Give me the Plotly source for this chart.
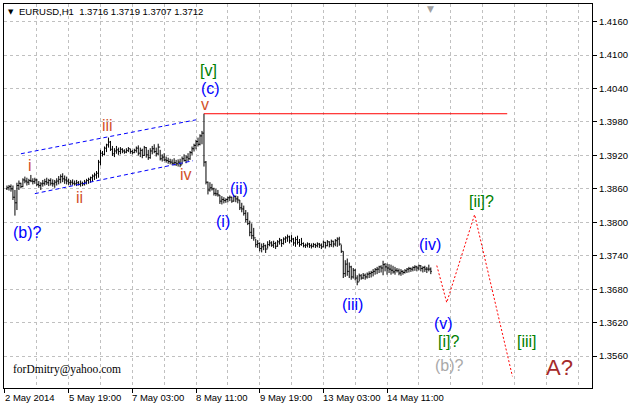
import plotly.graph_objects as go

# ---------------- data (prices in 1/10000) ----------------
first_open = 13860
highs = [
    13866, 13867, 13868, 13866, 13858, 13871, 13875, 13871, 13879, 13882,
    13880, 13878, 13885, 13879, 13880, 13878, 13874, 13872, 13876, 13878,
    13880, 13878, 13879, 13877, 13876, 13879, 13883, 13886, 13888, 13884,
    13882, 13878, 13876, 13877, 13875, 13876, 13874, 13875, 13873, 13876,
    13878, 13880, 13882, 13886, 13889, 13892, 13912, 13930, 13928, 13936,
    13941, 13952, 13946, 13937, 13933, 13937, 13934, 13935, 13933, 13931,
    13933, 13935, 13932, 13930, 13932, 13936, 13938, 13934, 13932, 13937,
    13935, 13930, 13933, 13937, 13940, 13934, 13941, 13930, 13922, 13924,
    13918, 13916, 13914, 13913, 13915, 13912, 13913, 13914, 13918, 13922,
    13920, 13924, 13928, 13936, 13941, 13948, 13952, 13958, 13964, 13995,
    13910, 13873, 13872, 13869, 13862, 13860, 13858, 13849, 13847, 13845,
    13843, 13846, 13848, 13846, 13849, 13848, 13847, 13840, 13835, 13830,
    13822, 13818, 13803, 13798, 13790, 13770, 13768, 13764, 13762, 13763,
    13760, 13766, 13768, 13766, 13767, 13765, 13768, 13772, 13770, 13773,
    13775, 13778, 13776, 13777, 13772, 13774, 13776, 13770, 13772, 13764,
    13762, 13764, 13763, 13762, 13763, 13762, 13764, 13763, 13762, 13767,
    13765, 13768, 13766, 13769, 13767, 13770, 13773, 13774, 13760, 13748,
    13732, 13735, 13728, 13722, 13718, 13716, 13705, 13708, 13707, 13709,
    13708, 13710, 13712, 13713, 13716, 13718, 13720, 13722, 13723, 13731,
    13727, 13726, 13725, 13724, 13722, 13720, 13718, 13717, 13716, 13714,
    13716, 13718, 13720, 13719, 13721, 13723, 13722, 13724, 13723, 13721,
    13722, 13720, 13724, 13719,
]
lows = [
    13858, 13857, 13855, 13840, 13812, 13822, 13858, 13861, 13863, 13870,
    13866, 13867, 13872, 13868, 13869, 13865, 13862, 13858, 13864, 13866,
    13867, 13865, 13866, 13864, 13862, 13866, 13868, 13870, 13872, 13869,
    13868, 13867, 13866, 13867, 13866, 13865, 13866, 13864, 13865, 13866,
    13868, 13869, 13871, 13873, 13876, 13878, 13880, 13902, 13918, 13920,
    13926, 13934, 13928, 13919, 13917, 13923, 13921, 13922, 13924, 13923,
    13924, 13926, 13923, 13922, 13924, 13925, 13920, 13917, 13915, 13919,
    13916, 13912, 13914, 13922, 13924, 13918, 13920, 13911, 13909, 13910,
    13907, 13905, 13904, 13903, 13902, 13901, 13900, 13899, 13904, 13909,
    13906, 13910, 13912, 13921, 13927, 13931, 13936, 13938, 13940, 13900,
    13868, 13850, 13855, 13857, 13848, 13847, 13846, 13833, 13832, 13834,
    13835, 13836, 13838, 13835, 13837, 13836, 13834, 13822, 13818, 13812,
    13800, 13795, 13775, 13770, 13767, 13755, 13754, 13748, 13746, 13750,
    13745, 13753, 13757, 13756, 13754, 13752, 13756, 13760, 13756, 13760,
    13763, 13765, 13762, 13764, 13758, 13756, 13760, 13756, 13758, 13755,
    13754, 13755, 13754, 13753, 13755, 13754, 13755, 13754, 13752, 13755,
    13753, 13757, 13755, 13756, 13755, 13757, 13756, 13758, 13745, 13700,
    13702, 13704, 13700, 13697, 13699, 13696, 13687, 13694, 13697, 13698,
    13697, 13699, 13700, 13701, 13703, 13706, 13707, 13709, 13710, 13705,
    13712, 13706, 13709, 13706, 13708, 13706, 13710, 13705, 13704, 13706,
    13708, 13709, 13710, 13711, 13712, 13713, 13712, 13714, 13712, 13710,
    13711, 13709, 13712, 13707,
]
closes = [
    13862, 13864, 13860, 13845, 13835, 13866, 13870, 13864, 13876, 13874,
    13872, 13875, 13874, 13873, 13876, 13868, 13866, 13869, 13870, 13873,
    13871, 13875, 13870, 13869, 13872, 13874, 13877, 13882, 13878, 13876,
    13874, 13871, 13872, 13870, 13869, 13871, 13868, 13870, 13869, 13872,
    13875, 13877, 13880, 13883, 13885, 13888, 13908, 13924, 13922, 13933,
    13939, 13944, 13931, 13923, 13928, 13930, 13927, 13931, 13928, 13926,
    13929, 13932, 13927, 13925, 13929, 13933, 13924, 13929, 13920, 13934,
    13921, 13916, 13928, 13932, 13927, 13923, 13935, 13914, 13917, 13912,
    13911, 13909, 13908, 13906, 13907, 13905, 13908, 13903, 13914, 13911,
    13917, 13914, 13925, 13932, 13938, 13945, 13940, 13955, 13960, 13908,
    13872, 13858, 13862, 13860, 13852, 13851, 13849, 13838, 13841, 13839,
    13841, 13844, 13845, 13838, 13846, 13842, 13840, 13826, 13824, 13816,
    13805, 13798, 13782, 13776, 13772, 13760, 13762, 13753, 13756, 13758,
    13752, 13760, 13763, 13759, 13762, 13757, 13765, 13768, 13762, 13770,
    13772, 13774, 13767, 13770, 13763, 13769, 13764, 13760, 13762, 13758,
    13759, 13761, 13758, 13757, 13760, 13758, 13761, 13759, 13756, 13764,
    13758, 13765, 13760, 13766, 13761, 13767, 13770, 13761, 13748, 13708,
    13725, 13712, 13720, 13702, 13714, 13700, 13693, 13704, 13700, 13705,
    13702, 13707, 13708, 13710, 13712, 13715, 13716, 13720, 13718, 13724,
    13720, 13718, 13716, 13714, 13711, 13714, 13713, 13709, 13712, 13710,
    13713, 13716, 13717, 13716, 13719, 13720, 13718, 13722, 13717, 13719,
    13716, 13716, 13716, 13712,
]

# time axis labels (bar index of each label)
time_tick_bars = [-1, 31, 63, 95, 127, 159, 191]
time_tick_labels = ["2 May 2014", "5 May 19:00", "7 May 03:00", "8 May 11:00",
                    "9 May 19:00", "13 May 03:00", "14 May 11:00"]
price_ticks = [1.3560, 1.3620, 1.3680, 1.3740, 1.3800, 1.3860, 1.3920,
               1.3980, 1.4040, 1.4100, 1.4160]

# channel lines (bar index, price)
upper_channel_x = [7, 95]
upper_channel_y = [1.39230, 1.39839]
lower_channel_x = [14, 93.5]
lower_channel_y = [1.38514, 1.39105]

# horizontal level from the top
level_x = [99, 251.4]
level_y = [1.39948, 1.39948]

# forecast path
forecast_x = [216, 221, 235, 254]
forecast_y = [1.37224, 1.36561, 1.38138, 1.35236]

# wave labels: text, bar index, price, color, size
wave_text = ["(b)?", "i", "ii", "iii", "iv", "v", "(c)", "[v]", "(i)", "(ii)",
             "(iii)", "(iv)", "(v)", "[i]?", "(b)?", "[ii]?", "[iii]", "A?"]
wave_x = [10.2, 11.7, 36.2, 50.7, 90.2, 99.7, 102.2, 101.2, 108.7, 116.7,
          173.7, 212.7, 219.2, 221.7, 222.2, 238.7, 261.2, 277.7]
wave_y = [1.37815, 1.39015, 1.38442, 1.39732, 1.38854, 1.40108, 1.40395, 1.40717,
          1.38012, 1.38603, 1.36526, 1.37600, 1.36185, 1.35863, 1.35433, 1.38371,
          1.35863, 1.35397]
BLUE, ORANGE, GREEN, GRAY, BROWN = "#0000FF", "#D2522A", "#008000", "#A9A9A9", "#A52A2A"
wave_color = [BLUE, ORANGE, ORANGE, ORANGE, ORANGE, ORANGE, BLUE, GREEN, BLUE, BLUE,
              BLUE, BLUE, BLUE, GREEN, GRAY, GREEN, GREEN, BROWN]
wave_size = [16] * 17 + [22]

# ---------------- figure ----------------
scale = 10000.0
bars = list(range(len(closes)))
opens = [first_open] + closes[:-1]

fig = go.Figure()
fig.add_trace(go.Ohlc(
    x=bars,
    open=[v / scale for v in opens],
    high=[v / scale for v in highs],
    low=[v / scale for v in lows],
    close=[v / scale for v in closes],
    increasing=dict(line=dict(color="black", width=1)),
    decreasing=dict(line=dict(color="black", width=1)),
    tickwidth=0.5, showlegend=False, hoverinfo="skip",
))

for xs, ys in [(upper_channel_x, upper_channel_y), (lower_channel_x, lower_channel_y)]:
    fig.add_trace(go.Scatter(x=xs, y=ys, mode="lines", showlegend=False, hoverinfo="skip",
                             line=dict(color="#0000FF", width=1, dash="4px,3px")))

fig.add_trace(go.Scatter(x=level_x, y=level_y, mode="lines", showlegend=False,
                         hoverinfo="skip", line=dict(color="#FF0000", width=1)))
fig.add_trace(go.Scatter(x=forecast_x, y=forecast_y, mode="lines", showlegend=False,
                         hoverinfo="skip", line=dict(color="#FF0000", width=1, dash="2px,2px")))

FONT = "Liberation Sans, Arial, sans-serif"
annotations = []
for t, x, y, c, s in zip(wave_text, wave_x, wave_y, wave_color, wave_size):
    annotations.append(dict(text=t, x=x, y=y, xref="x", yref="y", showarrow=False,
                            xanchor="center", yanchor="middle", borderpad=0,
                            font=dict(family=FONT, size=s, color=c)))

L, R, T, B = 3, 594, 3, 388
def px_x(px):
    return (px - L) / (R - L)
def px_y(py):
    return (B - py) / (B - T)

for xb, lab in zip(time_tick_bars, time_tick_labels):
    annotations.append(dict(text=lab, x=xb, y=px_y(397.5), xref="x", yref="paper",
                            showarrow=False, xanchor="left", yanchor="middle", xshift=-2,
                            font=dict(family=FONT, size=9.5, color="black")))

annotations.append(dict(text="▼", x=px_x(10), y=px_y(11), xref="paper", yref="paper",
                        showarrow=False, xanchor="center", yanchor="middle",
                        font=dict(family="DejaVu Sans", size=7, color="black")))
annotations.append(dict(text="EURUSD,H1  1.3716 1.3719 1.3707 1.3712", x=px_x(16), y=px_y(11),
                        xref="paper", yref="paper", showarrow=False, xanchor="left",
                        yanchor="middle", font=dict(family=FONT, size=9.5, color="black")))
annotations.append(dict(text="▼", x=213, y=1, xref="x", yref="paper", showarrow=False,
                        xanchor="center", yanchor="top", yshift=2,
                        font=dict(family="DejaVu Sans", size=9, color="#A0A0A0")))
annotations.append(dict(text="forDmitry@yahoo.com", x=px_x(10), y=px_y(369.5),
                        xref="paper", yref="paper", showarrow=False, xanchor="left",
                        yanchor="middle",
                        font=dict(family="Liberation Serif, Times New Roman, serif",
                                  size=11.5, color="black")))

GRID = "#C0C0C0"
fig.update_layout(
    width=631, height=406,
    margin=dict(l=L, r=631 - R, t=T, b=406 - B, pad=0),
    paper_bgcolor="white", plot_bgcolor="white",
    showlegend=False,
    annotations=annotations,
    xaxis=dict(
        range=[-1.5, 294.0], rangeslider=dict(visible=False),
        tickmode="array", tickvals=time_tick_bars, ticktext=[""] * len(time_tick_bars),
        ticks="outside", ticklen=4, tickcolor="black",
        showgrid=True, gridcolor=GRID, griddash="3px,3px", gridwidth=1,
        minor=dict(tickmode="linear", tick0=-1, dtick=16, showgrid=True,
                   gridcolor=GRID, griddash="3px,3px", ticks=""),
        showline=True, linecolor="black", linewidth=1, mirror=True, zeroline=False,
        fixedrange=True,
    ),
    yaxis=dict(
        range=[1.35027, 1.41917], side="right",
        tickmode="array", tickvals=price_ticks,
        ticktext=["%.4f" % v for v in price_ticks],
        ticks="outside", ticklen=4, tickcolor="black",
        tickfont=dict(family=FONT, size=9.5, color="black"),
        showgrid=True, gridcolor=GRID, griddash="3px,3px", gridwidth=1,
        showline=True, linecolor="black", linewidth=1, mirror=True, zeroline=False,
        fixedrange=True,
    ),
)

fig.write_html("out.html", config={"displayModeBar": False},
               post_script="document.body.style.margin='0';document.body.style.padding='0';")
